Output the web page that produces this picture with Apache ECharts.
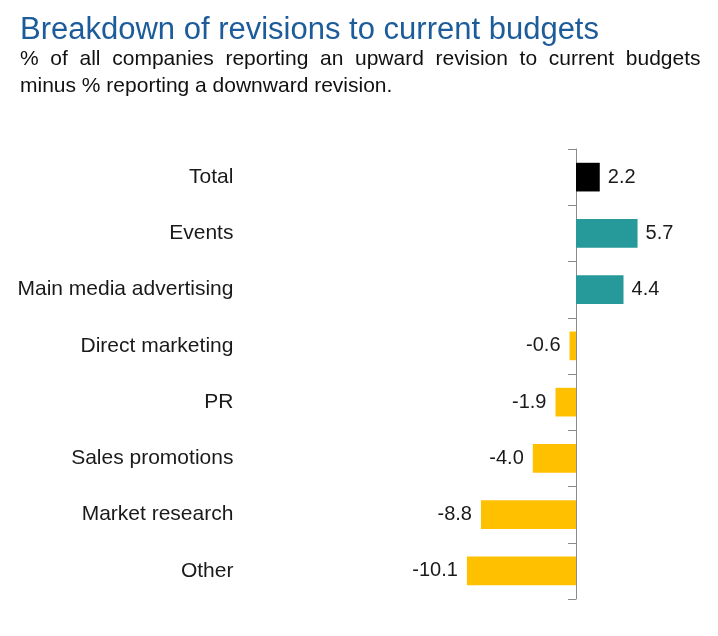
<!DOCTYPE html>
<html>
<head>
<meta charset="utf-8">
<script src="https://cdn.jsdelivr.net/npm/echarts@6/dist/echarts.min.js"></script>
<style>
html,body{margin:0;padding:0;background:#fff;}
#chart{width:718px;height:636px;}
</style>
</head>
<body>
<div id="chart"></div>
<script>
const titleText = 'Breakdown of revisions to current budgets';
const subtitleLines = [
  '%  of  all  companies  reporting  an  upward  revision  to  current  budgets',
  'minus % reporting a downward revision.'
];
const categories = ['Total', 'Events', 'Main media advertising', 'Direct marketing', 'PR', 'Sales promotions', 'Market research', 'Other'];
const values = [2.2, 5.7, 4.4, -0.6, -1.9, -4.0, -8.8, -10.1];

const FONT = 'Arial, "Liberation Sans", Helvetica, sans-serif';
const chart = echarts.init(document.getElementById('chart'), null, {renderer: 'canvas'});

chart.setOption({
  animation: false,
  backgroundColor: '#ffffff',
  title: [
    {
      text: titleText, left: 20, top: 15, padding: 0,
      textStyle: {fontFamily: FONT, fontSize: 31, fontWeight: 'normal', color: '#1d5c9a', lineHeight: 30}
    },
    {
      text: subtitleLines.join('\n'), left: 20, top: 46, padding: 0,
      textStyle: {fontFamily: FONT, fontSize: 21, fontWeight: 'normal', color: '#111111', lineHeight: 27}
    }
  ],
  grid: {left: 446.4, right: 12.4, top: 149, bottom: 37, containLabel: false, outerBoundsMode: 'none'},
  xAxis: {
    type: 'value', min: -12, max: 12, show: false
  },
  yAxis: {
    type: 'category',
    data: categories,
    inverse: true,
    axisLine: {show: true, onZero: true, lineStyle: {color: '#8a8a8a', width: 1}},
    axisTick: {show: true, length: 8, lineStyle: {color: '#8a8a8a'}},
    axisLabel: {margin: 213, fontFamily: FONT, fontSize: 21, color: '#1a1a1a'},
    splitLine: {show: false}
  },
  series: [{
    type: 'bar',
    data: values.map(function (v) {
      return v < 0 ? {value: v, label: {position: 'left', distance: 9}} : {value: v};
    }),
    barWidth: '51%',
    itemStyle: {
      color: function (p) {
        if (p.name === 'Total') return '#000000';
        return p.value >= 0 ? '#269a9a' : '#ffc000';
      }
    },
    label: {
      show: true,
      fontFamily: FONT, fontSize: 20, color: '#1a1a1a',
      distance: 8,
      position: 'right',
      formatter: function (p) { return p.value.toFixed(1); }
    }
  }]
});
</script>
</body>
</html>
